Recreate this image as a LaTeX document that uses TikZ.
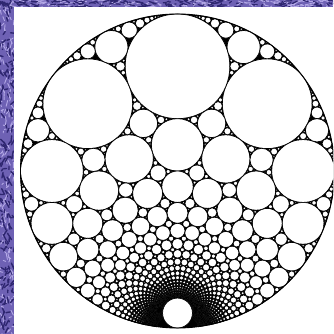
\documentclass[tikz,border=0pt]{standalone}
\usepackage{tikz}
\usetikzlibrary{calc}
\definecolor{bgpurple}{HTML}{6E61B4}
\definecolor{bgdark}{HTML}{2E2670}
\definecolor{bglight}{HTML}{B3A8E6}
\tikzset{
  pearl/.style={fill=white, draw=black, line width=0.7pt},
  rim/.style={draw=black, line width=0.9pt},
}
% circle (x,y,r) of the half-plane grid -> disc of radius 1
\newcommand\apcirc[3]{%
  \pgfmathsetmacro\apD{(#1)*(#1)+((#2)+2)*((#2)+2)-(#3)*(#3)}%
  \pgfmathsetmacro\apX{-4*(#1)/\apD}%
  \pgfmathsetmacro\apY{4*((#2)+2)/\apD-1}%
  \pgfmathsetmacro\apR{4*(#3)/\apD}%
  \filldraw[pearl] (\apX,\apY) circle[radius=\apR];%
}

\begin{document}
\begin{tikzpicture}[x=1pt,y=1pt]

\useasboundingbox (0,0) rectangle (333,334);
\clip (0,0) rectangle (333,334);

% ---- Background ----
\fill[bgpurple] (0,0) rectangle (333,334);
\pgfmathsetseed{42}
\foreach \i in {1,...,160} {
    \pgfmathsetmacro\px{rnd*14}
    \pgfmathsetmacro\py{rnd*334}
    \draw[bgdark, line width=1.4pt, line cap=round] (\px,\py) -- ++(rand*4,rand*8);
    \pgfmathsetmacro\sx{rnd*14}
    \pgfmathsetmacro\sy{rnd*334}
    \draw[bglight, line width=0.9pt, line cap=round] (\sx,\sy) -- ++(rand*3,rand*6);
    \pgfmathsetmacro\qx{rnd*333}
    \pgfmathsetmacro\qy{327+rnd*7}
    \draw[bgdark, line width=1.2pt, line cap=round] (\qx,\qy) -- ++(rand*8,rand*3);
    \pgfmathsetmacro\tx{rnd*333}
    \pgfmathsetmacro\ty{327+rnd*7}
    \draw[bglight, line width=0.9pt, line cap=round] (\tx,\ty) -- ++(rand*6,rand*2);
}
\fill[white] (14,0) rectangle (333,327);

% ---- Packing ----
\begin{scope}[shift={(177.5,163)}, x=157pt, y=157pt]
    \fill[black] (0,0) circle[radius=1];

    % Grid circles, rows 0..18
    \foreach \n in {0,...,18} {
        \foreach \m in {-30,...,30} {
            \apcirc{\m}{\n+0.5}{0.5}
        }
    }

    % Square gaps between four grid circles
    \foreach \n in {1,...,18} {
        \foreach \m in {-30,...,29} {
            \pgfmathsetmacro\cx{\m+0.5}
            \pgfmathsetmacro\dd{\cx*\cx+(\n+2)*(\n+2)}
            \ifdim\dd pt<400pt \apcirc{\cx}{\n}{0.20711}\fi
            \ifdim\dd pt<100pt
                \foreach \dx/\dy in {0/-0.2612, 0.2612/0, 0/0.2612, -0.2612/0}
                    {\apcirc{\cx+(\dx)}{\n+(\dy)}{0.0541}}
            \fi
            \ifdim\dd pt<50pt
                \foreach \dx/\dy in {0/-0.34021, 0.34021/0, 0/0.34021, -0.34021/0}
                    {\apcirc{\cx+(\dx)}{\n+(\dy)}{0.02491}}
                \foreach \dx/\dy in {0.06169/0.21915, -0.06169/0.21915, 0.06169/-0.21915, -0.06169/-0.21915,
                                     0.21915/0.06169, -0.21915/0.06169, 0.21915/-0.06169, -0.21915/-0.06169}
                    {\apcirc{\cx+(\dx)}{\n+(\dy)}{0.02056}}
            \fi
        }
    }

    % Gaps along the rim
    \foreach \m in {-20,...,19} {
        \foreach \fx/\fy/\fr in {0.5/0.125/0.125, 0.33333/0.05556/0.05556, 0.66667/0.05556/0.05556,
                                 0.5/0.29167/0.04167, 0.5/0.35417/0.02083,
                                 0.45455/0.25758/0.01515, 0.54545/0.25758/0.01515}
            {\apcirc{\m+\fx}{\fy}{\fr}}
    }
    \foreach \m in {-8,...,7} {
        \foreach \fx/\fr in {0.25/0.03125, 0.75/0.03125, 0.2/0.02, 0.4/0.02, 0.6/0.02, 0.8/0.02,
                             0.16667/0.01389, 0.83333/0.01389}
            {\apcirc{\m+\fx}{\fr}{\fr}}
    }
    \foreach \m in {-3,...,2} {
        \foreach \fx/\fr in {0.14286/0.0102, 0.28571/0.0102, 0.42857/0.0102, 0.57143/0.0102,
                             0.71429/0.0102, 0.85714/0.0102, 0.125/0.00781, 0.375/0.00781,
                             0.625/0.00781, 0.875/0.00781}
            {\apcirc{\m+\fx}{\fr}{\fr}}
    }

    % Hole at the bottom
    \filldraw[pearl] (0,-0.90476) circle[radius=0.095238];

    % Outer circle
    \draw[rim] (0,0) circle[radius=1];
\end{scope}

\end{tikzpicture}
\end{document}
